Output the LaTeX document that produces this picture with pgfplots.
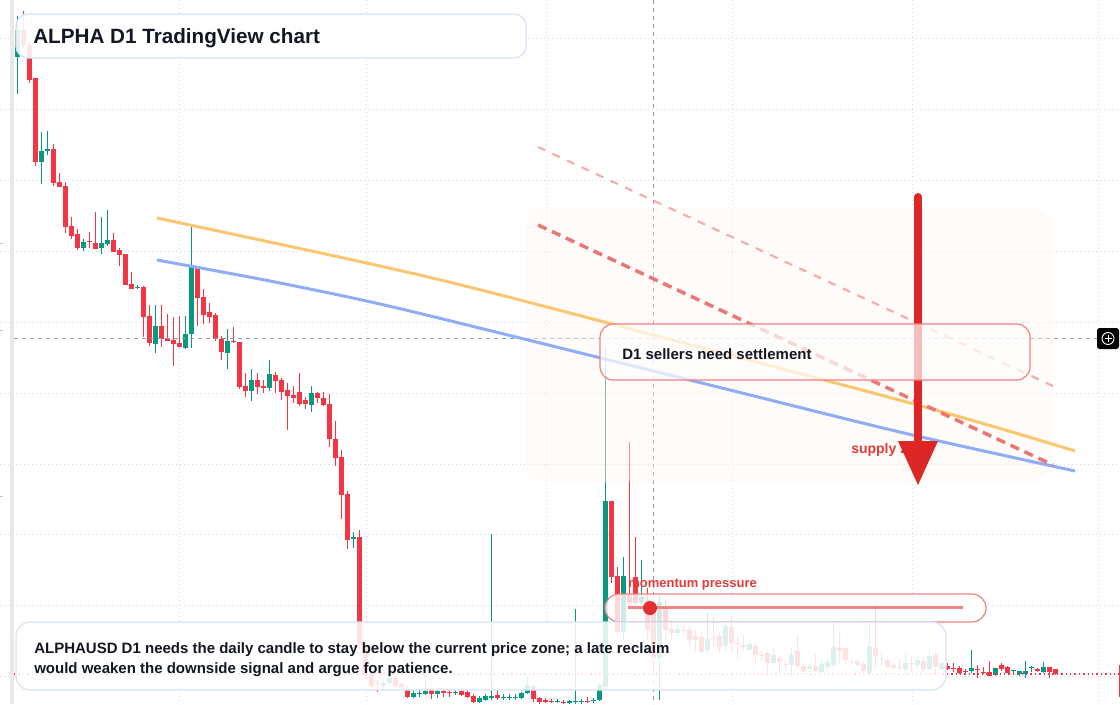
\documentclass[border=0pt]{standalone}
\usepackage{pgfplots}
\pgfplotsset{compat=1.18}
\usepackage{pgfplotstable}
\usepackage{fontspec}
\setmainfont{Liberation Sans}
\definecolor{cred}{HTML}{F23645}
\definecolor{cgreen}{HTML}{089981}
\definecolor{txt}{HTML}{131722}
\definecolor{gridc}{HTML}{D5D8DF}
\definecolor{crossc}{HTML}{9598A1}
\definecolor{boxblue}{HTML}{D6E3F8}
\definecolor{orangel}{RGB}{250,198,112}
\definecolor{bluel}{RGB}{143,173,245}
\definecolor{dashred}{RGB}{234,118,118}
\definecolor{dashpink}{RGB}{245,172,172}
\definecolor{arrowred}{RGB}{221,38,38}
\definecolor{boxred}{RGB}{238,128,128}
\definecolor{zonec}{RGB}{255,246,240}
\definecolor{momred}{RGB}{226,58,58}
\definecolor{momline}{RGB}{238,132,132}
\definecolor{dotred}{RGB}{226,48,48}

\pgfplotstableread{
i t b h l
1 30 45 11 48
2 45 80 42 83
3 78 162 78 166
6 149 183 144 186
7 182 187 173 187
8 186 227 182 233
9 226 236 217 239
10 234 248 229 250
12 241 242 232 248
13 243 249 212 249
16 240 252 233 252
17 250 255 248 266
18 254 285 254 285
19 284 289 272 289
21 287 317 286 337
22 316 343 305 346
24 326 339 305 347
25 338 341 314 341
26 340 344 317 366
27 343 347 316 347
30 267 298 266 326
31 297 315 289 324
32 312 317 303 323
33 315 339 313 341
34 339 352 336 360
36 341 342 327 343
37 342 387 342 389
38 386 391 373 397
40 380 387 373 394
41 386 388 380 393
43 375 381 372 393
44 380 392 378 400
45 390 396 383 430
46 395 398 386 403
47 392 404 373 406
48 400 404 397 409
50 393 398 392 403
51 398 405 392 406
52 404 439 394 447
53 439 458 421 466
54 457 495 450 519
55 494 540 491 549
57 537 645 530 650
58 645 675 640 680
59 675 686 672 688
60 683 684 680 692
63 678 686 676 688
64 684 687 682 689
65 689 697 686 698
69 689 694 687 699
71 691 693 689 697
72 692 693 690 697
74 691 695 689 696
75 692 697 690 698
76 696 702 694 703
80 695 698 690 700
86 686 699 684 702
87 698 702 697 704
88 700 702 698 703
89 701 702 699 703
91 702 703 700 704
95 701 702 697 703
99 501 577 501 583
100 576 632 567 634
102 595 603 442 606
103 577 603 537 610
105 600 630 588 640
106 612 658 605 672
108 607 630 600 640
109 629 633 620 640
111 630 631 625 636
112 630 640 625 645
113 636 640 630 652
114 637 652 633 653
116 638 639 617 647
117 636 647 632 653
119 627 643 616 652
120 643 644 637 658
121 645 647 635 650
123 646 655 642 663
124 655 656 651 660
125 653 663 651 674
127 658 662 655 673
128 664 665 661 671
130 651 666 635 669
131 666 671 663 672
133 666 671 654 672
137 648 651 631 663
138 648 660 647 664
139 661 662 660 664
140 661 665 659 666
141 664 671 661 673
143 648 656 605 668
145 660 667 658 668
146 665 668 662 669
147 667 668 659 670
149 663 664 657 672
151 661 669 657 672
153 655 667 653 675
155 666 669 663 670
156 668 669 663 672
157 668 673 666 674
158 671 672 669 674
160 669 670 665 678
161 672 673 667 674
162 672 676 661 676
164 665 669 663 671
165 667 673 666 673
170 669 671 668 672
172 667 672 667 678
173 669 674 669 675
}\redc

\pgfplotstableread{
i t b h l
0 30 57 16 94
4 151 162 132 184
5 149 151 131 155
11 242 248 239 251
14 243 248 217 254
15 240 244 210 246
20 287 288 285 289
23 326 344 305 353
28 334 348 316 349
29 267 334 227 348
35 341 353 329 369
39 380 391 369 401
42 374 388 360 391
49 393 405 386 412
56 537 539 532 548
61 683 686 680 688
62 678 683 672 685
66 693 697 690 698
67 693 694 690 697
68 691 694 675 695
70 691 694 689 698
73 692 693 690 695
77 698 702 696 703
78 696 700 694 701
79 696 698 534 700
81 697 698 694 700
82 697 698 694 700
83 697 698 694 700
84 693 698 692 699
85 685 693 677 694
90 701 702 699 703
92 701 703 700 704
93 701 702 609 704
94 701 702 699 704
96 700 701 698 703
97 685 700 683 701
98 501 687 348 690
101 576 632 557 640
104 597 602 560 605
107 602 658 595 700
110 629 633 625 636
115 639 650 613 653
118 626 646 624 651
122 644 650 642 651
126 655 663 648 664
129 655 665 648 675
132 666 669 664 672
134 664 672 658 673
135 662 667 658 670
136 647 665 622 667
142 646 673 624 675
144 659 660 652 666
148 663 669 654 674
150 660 665 657 668
152 656 669 651 670
154 663 669 662 670
159 668 671 650 673
163 668 675 668 676
166 670 671 670 675
167 671 674 671 676
168 671 674 661 678
169 667 668 666 672
171 667 672 662 673
}\greenc

\begin{document}
\begin{tikzpicture}
\begin{axis}[
  name=ax,
  scale only axis, width=840pt, height=528pt,
  xmin=0, xmax=1120, ymin=0, ymax=704, y dir=reverse,
  enlargelimits=false,
  axis line style={draw=none},
  xtick={179,366,546,732,912,1098},
  ytick={38,109,180,251,322,393,464,534,605,676},
  xticklabels={}, yticklabels={},
  tick style={draw=none},
  grid=major,
  major grid style={gridc, line width=0.75pt, dash pattern=on 0.75pt off 2.25pt},
  candle/.style={draw=none, no markers, forget plot, error bars/.cd, y dir=plus, y explicit, error mark=none},
]
% left band
\fill[black!9] (axis cs:10,0) rectangle (axis cs:14,704);
\draw[black!25, line width=0.75pt] (axis cs:0,243) -- (axis cs:3,243);
\draw[black!25, line width=0.75pt] (axis cs:0,330) -- (axis cs:3,330);
\draw[black!25, line width=0.75pt] (axis cs:0,496) -- (axis cs:3,496);

% wicks
\addplot[candle, error bar style={draw=cred, line width=0.75pt}]
  table[x expr=17.3+6*\thisrow{i}, y=h, y error expr=\thisrow{l}-\thisrow{h}] {\redc};
\addplot[candle, error bar style={draw=cgreen, line width=0.75pt}]
  table[x expr=17.3+6*\thisrow{i}, y=h, y error expr=\thisrow{l}-\thisrow{h}] {\greenc};
% bodies
\addplot[candle, error bar style={draw=cred, line width=3.4pt}]
  table[x expr=17.3+6*\thisrow{i}, y=t, y error expr={max(\thisrow{b}-\thisrow{t},1)}] {\redc};
\addplot[candle, error bar style={draw=cgreen, line width=3.4pt}]
  table[x expr=17.3+6*\thisrow{i}, y=t, y error expr={max(\thisrow{b}-\thisrow{t},1)}] {\greenc};

% crosshair and price line
\draw[crossc, line width=0.75pt, dash pattern=on 3pt off 3pt] (axis cs:653,0) -- (axis cs:653,704);
\draw[crossc, line width=0.75pt, dash pattern=on 3pt off 3pt] (axis cs:14,338) -- (axis cs:1097,338);
\draw[cred, line width=1pt, dash pattern=on 1.1pt off 2.2pt] (axis cs:14,674) -- (axis cs:1120,674);
\draw[cred, line width=0.75pt] (axis cs:1119,665) -- (axis cs:1119,697);

% zone
\fill[zonec, fill opacity=0.45, rounded corners=15pt] (axis cs:526,207) rectangle (axis cs:1052,482);

% trend lines
\addplot[orangel, line width=2.25pt, forget plot, smooth] coordinates {(157,218) (380,266) (520,300) (914,404) (1075,451)};
\addplot[bluel, line width=2.25pt, forget plot, smooth] coordinates {(157,260) (270,281) (380,304) (520,338) (730,390) (904,433) (1075,471)};
\addplot[dashred, line width=2.6pt, dash pattern=on 7pt off 4.5pt, forget plot] coordinates {(538,225) (1053,465)};
\addplot[dashpink, line width=1.6pt, dash pattern=on 6pt off 6pt, forget plot] coordinates {(538,147) (1053,386)};

% supply zone label and arrow
\node[anchor=base west, inner sep=0, text=momred, font=\bfseries\fontsize{10.5pt}{12pt}\selectfont] at (axis cs:851,453) {supply zone};
\draw[arrowred, line width=6pt, line cap=round] (axis cs:918,197) -- (axis cs:918,446);
\fill[arrowred] (axis cs:898,441) -- (axis cs:938,441) -- (axis cs:918,485) -- cycle;

% D1 box
\draw[boxred, line width=0.9pt, fill=white, fill opacity=0.7, rounded corners=10pt] (axis cs:600,324) rectangle (axis cs:1030,380);
\node[anchor=base west, inner sep=0, text=txt, font=\bfseries\fontsize{11.25pt}{13pt}\selectfont] at (axis cs:622,359) {D1 sellers need settlement};

% momentum
\node[anchor=base west, inner sep=0, text=momred, font=\bfseries\fontsize{9.75pt}{11pt}\selectfont] at (axis cs:628,587) {momentum pressure};
\draw[boxred, line width=0.9pt, fill=white, fill opacity=0.8, rounded corners=10.5pt] (axis cs:605,594) rectangle (axis cs:986,622);
\draw[momline, line width=2.2pt] (axis cs:628,607.5) -- (axis cs:963,607.5);
\fill[dotred] (axis cs:650,608) circle[radius=5.25pt];

% bottom box
\draw[boxblue, line width=1pt, fill=white, fill opacity=0.86, rounded corners=10.5pt] (axis cs:16,622) rectangle (axis cs:946,690);
\node[anchor=base west, inner sep=0, text=txt, font=\bfseries\fontsize{11.25pt}{13pt}\selectfont] at (axis cs:34,653) {ALPHAUSD D1 needs the daily candle to stay below the current price zone; a late reclaim};
\node[anchor=base west, inner sep=0, text=txt, font=\bfseries\fontsize{11.25pt}{13pt}\selectfont] at (axis cs:34,673) {would weaken the downside signal and argue for patience.};

% title box
\draw[boxblue, line width=1pt, fill=white, fill opacity=0.88, rounded corners=9pt] (axis cs:16,14) rectangle (axis cs:526,58);
\node[anchor=base west, inner sep=0, text=txt, font=\bfseries\fontsize{15.5pt}{18pt}\selectfont] at (axis cs:33,43.5) {ALPHA D1 TradingView chart};

% crosshair icon
\fill[black, rounded corners=2pt] (axis cs:1097,328) rectangle (axis cs:1119,349);
\draw[white, line width=0.7pt] (axis cs:1108,338.5) circle[radius=4.5pt];
\draw[white, line width=0.7pt] (axis cs:1104.5,338.5) -- (axis cs:1111.5,338.5) (axis cs:1108,335) -- (axis cs:1108,342);
\end{axis}
\pgfresetboundingbox
\path (ax.south west) rectangle (ax.north east);
\end{tikzpicture}
\end{document}
